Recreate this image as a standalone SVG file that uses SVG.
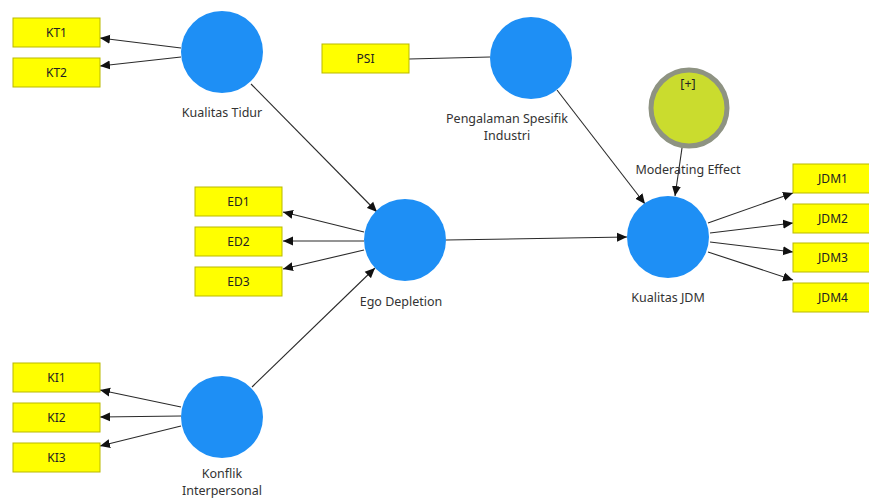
<svg xmlns="http://www.w3.org/2000/svg" width="869" height="499" viewBox="0 0 869 499">
  <style>
    .ind { fill: #ffff00; stroke: #b9b900; stroke-width: 1; }
    .ind-t { font-family: "Noto Sans", "DejaVu Sans", sans-serif; font-size: 12px; fill: #222; text-anchor: middle; }
    .lv { fill: #1e8ff5; }
    .lv-t { font-family: "Noto Sans", "DejaVu Sans", sans-serif; font-size: 12.5px; fill: #333; text-anchor: middle; }
    .mod { fill: #cadc2e; stroke: #8e9382; stroke-width: 5; }
    .edge { stroke: #2a2a2a; stroke-width: 1.1; fill: none; }
    .arr { marker-end: url(#head); }
  </style>
  <defs>
    <marker id="head" viewBox="0 0 10 10" refX="10" refY="5" markerWidth="10" markerHeight="10" markerUnits="userSpaceOnUse" orient="auto">
      <path d="M0,0.5 L10,5 L0,9.5 Z" fill="#111"/>
    </marker>
  </defs>
  <rect width="869" height="499" fill="#ffffff"/>

  <!-- connectors -->
  <g id="connectors">
    <line class="edge arr" x1="181" y1="48" x2="100" y2="38"/>
    <line class="edge arr" x1="181" y1="57" x2="100" y2="66"/>
    <line class="edge arr" x1="251" y1="84" x2="377" y2="212"/>
    <line class="edge" x1="409" y1="59" x2="490" y2="57"/>
    <line class="edge arr" x1="557" y1="90" x2="645" y2="204"/>
    <line class="edge arr" x1="682" y1="148" x2="675" y2="196"/>
    <line class="edge arr" x1="364" y1="232" x2="283" y2="212"/>
    <line class="edge arr" x1="364" y1="241" x2="283" y2="241"/>
    <line class="edge arr" x1="364" y1="250" x2="283" y2="269"/>
    <line class="edge arr" x1="446" y1="240" x2="627" y2="237"/>
    <line class="edge arr" x1="252" y1="387" x2="375" y2="268"/>
    <line class="edge arr" x1="181" y1="407" x2="100" y2="390"/>
    <line class="edge arr" x1="181" y1="416" x2="100" y2="417"/>
    <line class="edge arr" x1="181" y1="426" x2="100" y2="446"/>
    <line class="edge arr" x1="708" y1="223" x2="793" y2="193"/>
    <line class="edge arr" x1="710" y1="233" x2="793" y2="223"/>
    <line class="edge arr" x1="710" y1="242" x2="793" y2="252"/>
    <line class="edge arr" x1="708" y1="252" x2="793" y2="280"/>
  </g>

  <!-- indicators -->
  <g id="KT1"><rect class="ind" x="13" y="18" width="87" height="29"/><text class="ind-t" x="56.5" y="37">KT1</text></g>
  <g id="KT2"><rect class="ind" x="13" y="58" width="87" height="29"/><text class="ind-t" x="56.5" y="77">KT2</text></g>
  <g id="PSI"><rect class="ind" x="322" y="44" width="87" height="29"/><text class="ind-t" x="365.5" y="63">PSI</text></g>
  <g id="ED1"><rect class="ind" x="195" y="187" width="87" height="29"/><text class="ind-t" x="238.5" y="206">ED1</text></g>
  <g id="ED2"><rect class="ind" x="195" y="227" width="87" height="29"/><text class="ind-t" x="238.5" y="246">ED2</text></g>
  <g id="ED3"><rect class="ind" x="195" y="267" width="87" height="29"/><text class="ind-t" x="238.5" y="286">ED3</text></g>
  <g id="KI1"><rect class="ind" x="13" y="363" width="87" height="29"/><text class="ind-t" x="56.5" y="382">KI1</text></g>
  <g id="KI2"><rect class="ind" x="13" y="403" width="87" height="29"/><text class="ind-t" x="56.5" y="422">KI2</text></g>
  <g id="KI3"><rect class="ind" x="13" y="443" width="87" height="29"/><text class="ind-t" x="56.5" y="462">KI3</text></g>
  <g id="JDM1"><rect class="ind" x="793" y="164" width="87" height="29"/><text class="ind-t" x="833" y="183">JDM1</text></g>
  <g id="JDM2"><rect class="ind" x="793" y="204" width="87" height="29"/><text class="ind-t" x="833" y="223">JDM2</text></g>
  <g id="JDM3"><rect class="ind" x="793" y="243" width="87" height="29"/><text class="ind-t" x="833" y="262">JDM3</text></g>
  <g id="JDM4"><rect class="ind" x="793" y="283" width="87" height="29"/><text class="ind-t" x="833" y="302">JDM4</text></g>

  <!-- latent variables -->
  <g id="kualitas-tidur"><circle class="lv" cx="222" cy="52" r="41"/><text class="lv-t" x="222" y="117">Kualitas Tidur</text></g>
  <g id="pengalaman"><circle class="lv" cx="531" cy="58" r="41"/><text class="lv-t" x="507" y="123">Pengalaman Spesifik</text><text class="lv-t" x="507" y="140">Industri</text></g>
  <g id="moderating"><circle class="mod" cx="689" cy="108" r="38"/><text class="lv-t" x="688" y="88" style="fill:#222">[+]</text><text class="lv-t" x="688" y="174">Moderating Effect</text></g>
  <g id="ego-depletion"><circle class="lv" cx="405" cy="240" r="41"/><text class="lv-t" x="401" y="306">Ego Depletion</text></g>
  <g id="kualitas-jdm"><circle class="lv" cx="668" cy="237" r="41"/><text class="lv-t" x="668" y="302">Kualitas JDM</text></g>
  <g id="konflik"><circle class="lv" cx="222" cy="417" r="41"/><text class="lv-t" x="222" y="478">Konflik</text><text class="lv-t" x="222" y="495">Interpersonal</text></g>
</svg>
